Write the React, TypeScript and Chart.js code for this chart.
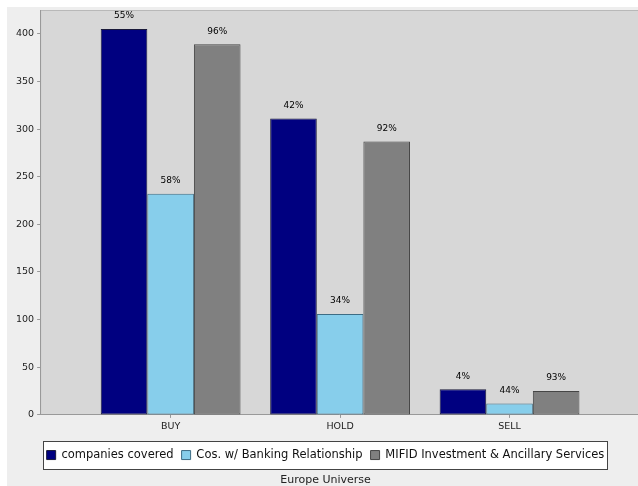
import React, { useEffect, useRef } from 'react';
import { Chart, registerables } from 'chart.js';

Chart.register(...registerables);

const categories = ['BUY', 'HOLD', 'SELL'];
const companiesCovered = [405, 311, 27];
const bankingRelationship = [232, 106, 12];
const mifidServices = [389, 287, 25];
const companiesPct = ['55%', '42%', '4%'];
const bankingPct = ['58%', '34%', '44%'];
const mifidPct = ['96%', '92%', '93%'];
const yTickValues = [0, 50, 100, 150, 200, 250, 300, 350, 400];
const seriesNames = ['companies covered', 'Cos. w/ Banking Relationship', 'MIFID Investment & Ancillary Services'];
const chartTitle = 'Europe Universe';

const FONT = "'DejaVu Sans', sans-serif";

const bgPlugin = {
  id: 'bgPlugin',
  beforeDraw(chart: any) {
    const { ctx, chartArea: a, width, height } = chart;
    ctx.save();
    ctx.fillStyle = '#eeeeee';
    ctx.fillRect(0, 0, width, height);
    ctx.fillStyle = '#d7d7d7';
    ctx.fillRect(a.left, a.top, a.right - a.left, a.bottom - a.top);
    ctx.strokeStyle = '#b8b8b8';
    ctx.lineWidth = 1;
    ctx.beginPath();
    ctx.moveTo(a.left + 0.5, a.bottom);
    ctx.lineTo(a.left + 0.5, a.top + 0.5);
    ctx.lineTo(a.right, a.top + 0.5);
    ctx.stroke();
    const lg = chart.legend;
    if (lg && lg.legendHitBoxes && lg.legendHitBoxes.length) {
      const hb = lg.legendHitBoxes;
      let minX = Infinity, maxX = -Infinity, minY = Infinity, maxY = -Infinity;
      hb.forEach((h: any) => {
        minX = Math.min(minX, h.left);
        maxX = Math.max(maxX, h.left + h.width);
        minY = Math.min(minY, h.top);
        maxY = Math.max(maxY, h.top + h.height);
      });
      const cy = (minY + maxY) / 2;
      const x0 = Math.round(minX - 4) + 0.5;
      const x1 = Math.round(maxX + 3) + 0.5;
      const y0 = Math.round(cy - 14) + 0.5;
      const y1 = Math.round(cy + 14) + 0.5;
      ctx.fillStyle = '#ffffff';
      ctx.fillRect(x0, y0, x1 - x0, y1 - y0);
      ctx.strokeStyle = '#444444';
      ctx.strokeRect(x0, y0, x1 - x0, y1 - y0);
    }
    ctx.restore();
  },
};

const pctLabels = [companiesPct, bankingPct, mifidPct];

const labelPlugin = {
  id: 'labelPlugin',
  afterDatasetsDraw(chart: any) {
    const { ctx } = chart;
    ctx.save();
    ctx.font = `9px ${FONT}`;
    ctx.fillStyle = '#000000';
    ctx.textAlign = 'center';
    ctx.textBaseline = 'middle';
    chart.data.datasets.forEach((_: any, di: number) => {
      const meta = chart.getDatasetMeta(di);
      meta.data.forEach((el: any, i: number) => {
        ctx.fillText(pctLabels[di][i], el.x, el.y - 13);
      });
    });
    ctx.restore();
  },
};

export default function App() {
  const ref = useRef<HTMLCanvasElement | null>(null);
  useEffect(() => {
    if (!ref.current) return;
    const toPts = (arr: number[]) => arr.map((v, i) => ({ x: i, y: v }));
    const common = {
      borderWidth: 1,
      borderSkipped: false,
      barPercentage: 1,
      categoryPercentage: 0.825,
    };
    const chart = new Chart(ref.current, {
      type: 'bar',
      data: {
        datasets: [
          { label: seriesNames[0], data: toPts(companiesCovered), backgroundColor: '#000080', borderColor: '#1a1a3a', ...common },
          { label: seriesNames[1], data: toPts(bankingRelationship), backgroundColor: '#87ceeb', borderColor: '#3d6c84', ...common },
          { label: seriesNames[2], data: toPts(mifidServices), backgroundColor: '#808080', borderColor: '#454545', ...common },
        ],
      } as any,
      options: {
        animation: false,
        responsive: true,
        maintainAspectRatio: false,
        layout: { padding: { left: 6, top: 3, right: 0, bottom: -1 } },
        font: { family: FONT },
        scales: {
          x: {
            type: 'linear',
            min: -0.77,
            max: 2.758,
            offset: false,
            afterBuildTicks: (s: any) => {
              s.ticks = categories.map((_, i) => ({ value: i }));
            },
            afterFit: (s: any) => {
              s.height += 6;
            },
            ticks: {
              callback: (v: any) => categories[v] ?? '',
              font: { family: FONT, size: 9.5 },
              color: '#222',
              padding: 3,
              maxRotation: 0,
            },
            grid: { display: true, offset: false, drawOnChartArea: false, drawTicks: true, tickLength: 3, color: '#999' },
            border: { display: true, color: '#999' },
          },
          y: {
            min: 0,
            max: 425,
            afterBuildTicks: (s: any) => {
              s.ticks = yTickValues.map((v) => ({ value: v }));
            },
            afterFit: (s: any) => {
              s.paddingTop = 0;
            },
            ticks: {
              font: { family: FONT, size: 9.5 },
              color: '#222',
              padding: 3,
            },
            grid: { display: true, drawOnChartArea: false, drawTicks: true, tickLength: 3, color: '#999' },
            border: { display: true, color: '#999' },
          },
        },
        plugins: {
          legend: {
            display: true,
            position: 'bottom',
            labels: {
              boxWidth: 9,
              boxHeight: 9,
              padding: 8,
              font: { family: FONT, size: 11.5 },
              color: '#111',
            },
          },
          title: {
            display: true,
            position: 'bottom',
            text: chartTitle,
            font: { family: FONT, size: 11, weight: 'normal' },
            color: '#222',
            padding: { top: 3, bottom: 0 },
          },
          tooltip: { enabled: false },
        },
      } as any,
      plugins: [bgPlugin, labelPlugin],
    });
    return () => chart.destroy();
  }, []);
  return (
    <div style={{ position: 'fixed', left: 7, top: 7, width: 631, height: 479 }}>
      <canvas ref={ref} />
    </div>
  );
}
